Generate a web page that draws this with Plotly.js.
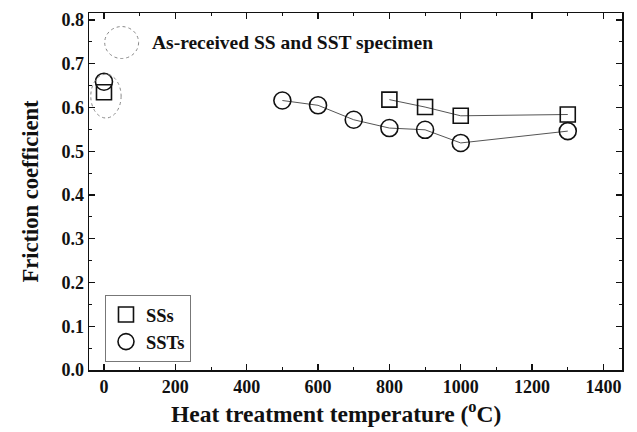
<!DOCTYPE html>
<html><head><meta charset="utf-8">
<script src="https://cdn.plot.ly/plotly-3.0.1.min.js"></script>
<style>body{margin:0;background:#fff}#c{width:637px;height:432px}</style>
</head><body><div id="c"></div>
<script>
// As-received specimens (0 °C)
const asRecTemp = [0];
const asRecSS = [0.635];
const asRecSST = [0.659];
// Heat-treated SSs
const ssTemp = [800, 900, 1000, 1300];
const ssFric = [0.618, 0.601, 0.581, 0.584];
// Heat-treated SSTs
const sstTemp = [500, 600, 700, 800, 900, 1000, 1300];
const sstFric = [0.616, 0.605, 0.572, 0.553, 0.549, 0.519, 0.546];
const labels = {ss: "SSs", sst: "SSTs", note: "As-received SS and SST specimen",
  xTitle: "Heat treatment temperature (<sup>o</sup>C)", yTitle: "Friction coefficient"};

const F = "Liberation Serif, Times New Roman, serif";
const lineStyle = {color: "#555", width: 1};
const sqMarker = {symbol: "square-open", size: 15, color: "#111", line: {width: 1.6, color: "#111"}};
const ciMarker = {symbol: "circle-open", size: 17, color: "#111", line: {width: 1.6, color: "#111"}};

const traces = [
  {x: ssTemp, y: ssFric, mode: "lines+markers", line: lineStyle, marker: sqMarker, name: labels.ss, showlegend: false},
  {x: sstTemp, y: sstFric, mode: "lines+markers", line: lineStyle, marker: ciMarker, name: labels.sst, showlegend: false},
  {x: asRecTemp, y: asRecSS, mode: "markers", marker: sqMarker, name: labels.ss},
  {x: asRecTemp, y: asRecSST, mode: "markers", marker: ciMarker, name: labels.sst}
];

const axisCommon = {
  showline: true, linecolor: "#111", linewidth: 1.5, mirror: "allticks",
  ticks: "inside", ticklen: 6, tickwidth: 1.3, tickcolor: "#111",
  showgrid: false, zeroline: false,
  tickfont: {family: F, size: 18, color: "#111", weight: "bold"}
};

const layout = {
  width: 637, height: 432,
  margin: {l: 89, r: 15, t: 13, b: 62},
  paper_bgcolor: "#fff", plot_bgcolor: "#fff",
  font: {family: F, color: "#111"},
  xaxis: Object.assign({}, axisCommon, {
    range: [-42, 1452], dtick: 200, tick0: 0,
    minor: {ticks: "inside", dtick: 100, ticklen: 3, tickcolor: "#111", tickwidth: 1}
  }),
  yaxis: Object.assign({}, axisCommon, {
    range: [0, 0.816], dtick: 0.1, tick0: 0, tickformat: ".1f",
    minor: {ticks: "inside", dtick: 0.05, ticklen: 3, tickcolor: "#111", tickwidth: 1},
    title: {text: labels.yTitle, font: {family: F, size: 22.5, weight: "bold", color: "#111"}, standoff: 16}
  }),
  showlegend: true,
  legend: {
    x: 0.03, y: 0.21, xanchor: "left", yanchor: "top",
    bordercolor: "#777", borderwidth: 1, bgcolor: "#fff",
    font: {family: F, size: 18.5, weight: "bold", color: "#111"},
    itemwidth: 30, tracegroupgap: 0
  },
  shapes: [
    {type: "circle", xref: "x", yref: "y", x0: -37, x1: 48, y0: 0.576, y1: 0.676, line: {color: "#888", width: 1, dash: "dot"}},
    {type: "circle", xref: "x", yref: "y", x0: 2, x1: 97, y0: 0.712, y1: 0.785, line: {color: "#888", width: 1, dash: "dot"}}
  ],
  annotations: [
    {x: 128, y: 0.749, xref: "x", yref: "y", xanchor: "left", yanchor: "middle", showarrow: false,
     text: labels.note, font: {family: F, size: 19.5, weight: "bold", color: "#111"}},
    {x: 0.463, y: -0.118, xref: "paper", yref: "paper", xanchor: "center", yanchor: "middle", showarrow: false,
     text: labels.xTitle, font: {family: F, size: 23.5, weight: "bold", color: "#111"}}
  ]
};

Plotly.newPlot("c", traces, layout, {displayModeBar: false, staticPlot: true});
</script></body></html>
